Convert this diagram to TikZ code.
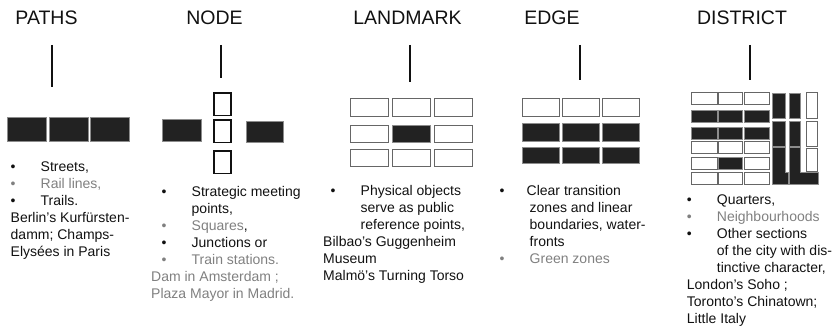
\documentclass[tikz,border=0pt]{standalone}
\usepackage{fontspec}
\setmainfont{Liberation Sans}
\definecolor{ink}{HTML}{111111}
\definecolor{dim}{HTML}{808080}
\definecolor{blockfill}{HTML}{222222}
\newlength\bulw \setlength\bulw{30pt}
\newcommand{\bul}[2][0pt]{\hspace*{#1}\makebox[\bulw][l]{\textbullet}#2}
\newcommand{\hang}[2][0pt]{\hspace*{\dimexpr#1+\bulw\relax}#2}

\begin{document}
\begin{tikzpicture}[x=1pt,y=-1pt,
  ttl/.style={font=\fontsize{19.5}{22}\selectfont,text=ink,inner sep=0},
  txt/.style={font=\fontsize{14}{17}\selectfont,text=ink,align=left,anchor=north west,inner sep=0},
  stem/.style={draw=ink,line width=1.3pt},
  blk/.style={fill=blockfill,draw=black!45,line width=.6pt},
  wht/.style={fill=white,draw=black!60,line width=1pt}]
\useasboundingbox (0,0) rectangle (834,326);
% titles
\node[ttl] (t-paths) at (46.5,18) {PATHS};
\node[ttl] (t-node) at (214.5,18) {NODE};
\node[ttl] (t-land) at (407.5,18) {LANDMARK};
\node[ttl] (t-edge) at (552,18) {EDGE};
\node[ttl] (t-dist) at (742,18) {DISTRICT};
% stems
\foreach \n/\x/\b in {paths/52/87,node/221/78,land/410/82,edge/580/80,dist/750/80}{
\coordinate (s-\n-a) at (\x,45); \coordinate (s-\n-b) at (\x,\b);
\draw[stem] (s-\n-a)--(s-\n-b);}
% paths
\foreach \x in {7,49,90}{\draw[blk] (\x,117) rectangle ++(39,24);}
% node
\draw[blk] (162,119) rectangle (201,141);
\draw[blk] (246,121) rectangle (283,142);
\foreach \y in {93,120,151}{\draw[wht,draw=ink,line width=1.4pt] (214,\y) rectangle ++(17,22.5);}
% landmark
\foreach \x in {350,392,434}{\foreach \y in {99,125,149}{\draw[wht] (\x,\y) rectangle ++(38,17);}}
\draw[blk] (392,125) rectangle ++(38,17);
% edge
\foreach \x in {522,562,602}{
\draw[wht] (\x,99) rectangle ++(37,17);
\draw[blk] (\x,123) rectangle ++(37,18);
\draw[blk] (\x,147) rectangle ++(37,16);}
% district
\foreach \y/\a/\b/\c in {93/wht/wht/wht,110/blk/blk/blk,127/blk/blk/blk,141/wht/wht/wht,157/wht/blk/wht,172/wht/wht/wht}{
\draw[\a] (691,\y) rectangle ++(26,12);
\draw[\b] (718,\y) rectangle ++(24,12);
\draw[\c] (744,\y) rectangle ++(25,12);}
\draw[blk] (772,93) rectangle (785,118);
\draw[blk] (772,121) rectangle (785,146);
\draw[blk] (772,147)--(785,147)--(785,172)--(788,172)--(788,184)--(772,184)--cycle;
\draw[blk] (789,93) rectangle (800,118);
\draw[blk] (789,121) rectangle (800,146);
\draw[blk] (789,147)--(800,147)--(800,172)--(818,172)--(818,184)--(789,184)--cycle;
\draw[wht] (806,93) rectangle (817,118);
\draw[wht] (806,121) rectangle (817,146);
\draw[wht] (806,148) rectangle (817,171);
% texts
\node[txt] (x-paths) at (10.5,162) {\bul{Streets,}\\
  \textcolor{dim}{\bul{Rail lines,}}\\
  \bul{Trails.}\\
  Berlin’s Kurfürsten-\\
  damm; Champs-\\
  Elysées in Paris};
\node[txt] (x-node) at (151,186) {\bul[10.5pt]{Strategic meeting}\\
  \hang[10.5pt]{points,}\\
  \textcolor{dim}{\bul[10.5pt]{Squares}},\\
  \bul[10.5pt]{Junctions or}\\
  \textcolor{dim}{\bul[10.5pt]{Train stations.}}\\
  \textcolor{dim}{Dam in Amsterdam ;}\\
  \textcolor{dim}{Plaza Mayor in Madrid.}};
\node[txt] (x-land) at (323,185.5) {\bul[7.5pt]{Physical objects}\\
  \hang[7.5pt]{serve as public}\\
  \hang[7.5pt]{reference points,}\\
  Bilbao’s Guggenheim\\
  Museum\\
  Malmö’s Turning Torso};
\node[txt] (x-edge) at (499.5,185.5) {\setlength\bulw{27pt}\bul{Clear transition}\\
  \hang{zones and linear}\\
  \hang{boundaries, water-}\\
  \hang{fronts}\\
  \textcolor{dim}{\bul{Green zones}}};
\node[txt] (x-dist) at (686.7,195) {\bul{Quarters,}\\
  \textcolor{dim}{\bul{Neighbourhoods}}\\
  \bul{Other sections}\\
  \hang{of the city with dis-}\\
  \hang{tinctive character,}\\
  London’s Soho ;\\
  Toronto’s Chinatown;\\
  Little Italy};
\end{tikzpicture}
\end{document}
